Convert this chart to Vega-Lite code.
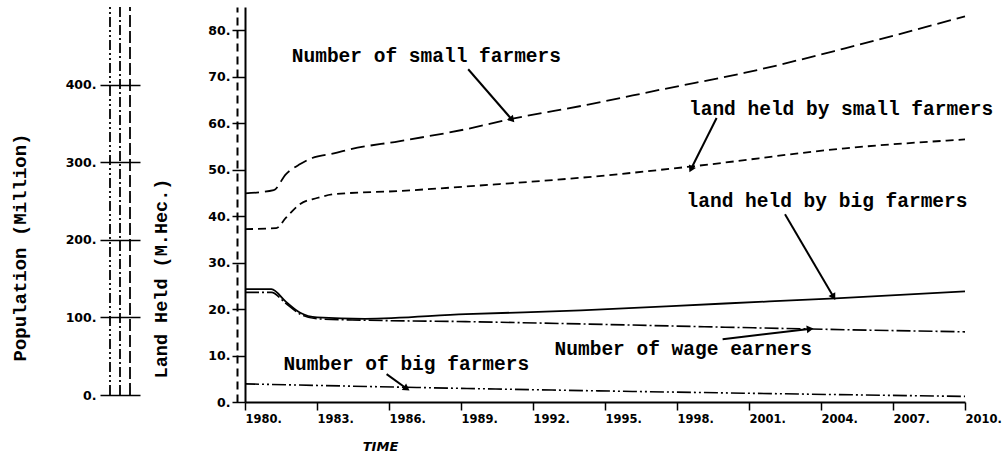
{
  "$schema": "https://vega.github.io/schema/vega-lite/v6.json",
  "padding": {"left": 10, "top": 6, "right": 0, "bottom": 5},
  "background": "white",
  "bounds": "flush",
  "spacing": 105,
  "config": {
    "view": {"stroke": null},
    "font": "DejaVu Sans",
    "axis": {"labelFont": "DejaVu Sans", "labelFontWeight": "bold", "labelFontSize": 12.5, "labelColor": "black", "titleColor": "black", "domainColor": "black", "tickColor": "black"}
  },
  "datasets": {
    "poplines": [{"line": 1}, {"line": 2}, {"line": 3}],
    "series": [
      {"series": "Number of small farmers", "year": 1980, "value": 44.9},
      {"series": "Number of small farmers", "year": 1981.2, "value": 45.6},
      {"series": "Number of small farmers", "year": 1981.7, "value": 49.0},
      {"series": "Number of small farmers", "year": 1982.3, "value": 51.2},
      {"series": "Number of small farmers", "year": 1982.8, "value": 52.5},
      {"series": "Number of small farmers", "year": 1983.7, "value": 53.5},
      {"series": "Number of small farmers", "year": 1984.4, "value": 54.4},
      {"series": "Number of small farmers", "year": 1986.4, "value": 56.1},
      {"series": "Number of small farmers", "year": 1989.2, "value": 58.7},
      {"series": "Number of small farmers", "year": 1991.1, "value": 60.9},
      {"series": "Number of small farmers", "year": 1994.3, "value": 64.0},
      {"series": "Number of small farmers", "year": 1997.5, "value": 67.4},
      {"series": "Number of small farmers", "year": 2000.8, "value": 70.8},
      {"series": "Number of small farmers", "year": 2005, "value": 76.1},
      {"series": "Number of small farmers", "year": 2010, "value": 83.0},
      {"series": "land held by small farmers", "year": 1980, "value": 37.2},
      {"series": "land held by small farmers", "year": 1981.3, "value": 37.4},
      {"series": "land held by small farmers", "year": 1981.7, "value": 39.6},
      {"series": "land held by small farmers", "year": 1982.3, "value": 42.6},
      {"series": "land held by small farmers", "year": 1983, "value": 43.9},
      {"series": "land held by small farmers", "year": 1983.7, "value": 44.7},
      {"series": "land held by small farmers", "year": 1986.4, "value": 45.4},
      {"series": "land held by small farmers", "year": 1990.6, "value": 46.9},
      {"series": "land held by small farmers", "year": 1994.3, "value": 48.4},
      {"series": "land held by small farmers", "year": 1998.8, "value": 50.8},
      {"series": "land held by small farmers", "year": 2005, "value": 54.6},
      {"series": "land held by small farmers", "year": 2010, "value": 56.5},
      {"series": "land held by big farmers", "year": 1980, "value": 24.3},
      {"series": "land held by big farmers", "year": 1981.1, "value": 24.3},
      {"series": "land held by big farmers", "year": 1981.7, "value": 21.6},
      {"series": "land held by big farmers", "year": 1982.3, "value": 19.2},
      {"series": "land held by big farmers", "year": 1983, "value": 18.2},
      {"series": "land held by big farmers", "year": 1985, "value": 17.9},
      {"series": "land held by big farmers", "year": 1989.2, "value": 18.9},
      {"series": "land held by big farmers", "year": 1994, "value": 19.7},
      {"series": "land held by big farmers", "year": 2000, "value": 21.2},
      {"series": "land held by big farmers", "year": 2004.6, "value": 22.3},
      {"series": "land held by big farmers", "year": 2010, "value": 23.8},
      {"series": "Number of wage earners", "year": 1980, "value": 23.6},
      {"series": "Number of wage earners", "year": 1981.1, "value": 23.6},
      {"series": "Number of wage earners", "year": 1981.7, "value": 21.2},
      {"series": "Number of wage earners", "year": 1982.3, "value": 18.9},
      {"series": "Number of wage earners", "year": 1983, "value": 17.9},
      {"series": "Number of wage earners", "year": 1985, "value": 17.6},
      {"series": "Number of wage earners", "year": 1989.2, "value": 17.3},
      {"series": "Number of wage earners", "year": 1994, "value": 16.8},
      {"series": "Number of wage earners", "year": 2000, "value": 16.1},
      {"series": "Number of wage earners", "year": 2003.6, "value": 15.7},
      {"series": "Number of wage earners", "year": 2010, "value": 15.1},
      {"series": "Number of big farmers", "year": 1980, "value": 3.9},
      {"series": "Number of big farmers", "year": 1986.4, "value": 3.2},
      {"series": "Number of big farmers", "year": 1994.7, "value": 2.4},
      {"series": "Number of big farmers", "year": 2002, "value": 1.8},
      {"series": "Number of big farmers", "year": 2010, "value": 1.2}
    ],
    "labels": [
      {"text": "Number of small farmers", "year": 1981.95, "value": 74.4},
      {"text": "land held by small farmers", "year": 1998.5, "value": 63.0},
      {"text": "land held by big farmers", "year": 1998.4, "value": 43.2},
      {"text": "Number of wage earners", "year": 1992.9, "value": 11.4},
      {"text": "Number of big farmers", "year": 1981.6, "value": 8.2}
    ],
    "arrows": [
      {"arrow": "small", "year": 1989.3, "value": 71.6, "year2": 1991.1, "value2": 60.9},
      {"arrow": "landsmall", "year": 1999.65, "value": 61.1, "year2": 1998.6, "value2": 50.3},
      {"arrow": "landbig", "year": 2002.5, "value": 40.4, "year2": 2004.5, "value2": 22.8},
      {"arrow": "wage", "year": 1999.9, "value": 13.5, "year2": 2003.5, "value2": 15.7},
      {"arrow": "big", "year": 1985.9, "value": 6.0, "year2": 1986.7, "value2": 3.0}
    ]
  },
  "hconcat": [
    {
      "width": 40,
      "height": 395,
      "data": {"name": "poplines"},
      "mark": {"type": "rule", "color": "black", "strokeWidth": 1.8},
      "encoding": {
        "x": {"field": "line", "type": "quantitative", "scale": {"domain": [0, 4]}, "axis": null},
        "y": {
          "datum": 0, "type": "quantitative",
          "scale": {"domain": [-9, 500], "nice": false, "zero": false},
          "axis": {
            "values": [0, 100, 200, 300, 400],
            "labelExpr": "datum.value + '.'",
            "grid": true, "gridColor": "black", "gridWidth": 1.5, "gridOpacity": 1,
            "domain": false, "ticks": false, "labelPadding": 4,
            "title": "Population (Million)",
            "titleFont": "Liberation Mono", "titleFontWeight": "bold", "titleFontSize": 19,
            "titleX": -81, "titleY": 240, "titleAlign": "center", "titleBaseline": "middle", "titleAngle": -90
          }
        },
        "y2": {"datum": 500},
        "strokeDash": {"field": "line", "type": "nominal", "scale": {"domain": [1, 2, 3], "range": [[10, 3, 2, 3, 2, 3], [10, 3, 2, 3], [12, 4]]}, "legend": null}
      }
    },
    {
      "width": 720,
      "height": 395,
      "layer": [
        {
          "data": {"name": "series"},
          "transform": [{"filter": "datum.series === 'land held by big farmers'"}],
          "mark": {"type": "line", "interpolate": "monotone", "color": "black", "strokeWidth": 1.8},
          "encoding": {
            "x": {
              "field": "year", "type": "quantitative",
              "scale": {"domain": [1980, 2010], "nice": false, "zero": false},
              "axis": {
                "values": [1980, 1983, 1986, 1989, 1992, 1995, 1998, 2001, 2004, 2007, 2010],
                "labelExpr": "datum.value + '.'",
                "labelFontSize": 11.5,
                "tickSize": 8, "tickWidth": 1.5, "domainWidth": 1.8,
                "labelAlign": "left", "labelDx": -4, "labelPadding": 3, "labelFlush": false, "labelOverlap": false, "grid": false,
                "title": "TIME", "titleX": 135, "titleY": 44, "titleAlign": "center", "titleBaseline": "middle",
                "titleFont": "DejaVu Sans", "titleFontStyle": "italic", "titleFontWeight": "bold", "titleFontSize": 13
              }
            },
            "y": {
              "field": "value", "type": "quantitative",
              "scale": {"domain": [0, 85], "nice": false, "zero": false},
              "axis": {
                "values": [0, 10, 20, 30, 40, 50, 60, 70, 80],
                "labelExpr": "datum.value + '.'",
                "tickSize": 13, "tickWidth": 1.5, "labelPadding": 2, "grid": false, "domainWidth": 2,
                "title": "Land Held (M.Hec.)",
                "titleFont": "Liberation Mono", "titleFontWeight": "bold", "titleFontSize": 18.5,
                "titleX": -85, "titleY": 271, "titleAlign": "center", "titleBaseline": "middle", "titleAngle": -90
              }
            }
          }
        },
        {
          "data": {"name": "series"},
          "transform": [{"filter": "datum.series === 'Number of small farmers'"}],
          "mark": {"type": "line", "interpolate": "monotone", "color": "black", "strokeWidth": 1.8, "strokeDash": [14, 6]},
          "encoding": {
            "x": {"field": "year", "type": "quantitative", "scale": {"domain": [1980, 2010], "nice": false, "zero": false}},
            "y": {"field": "value", "type": "quantitative", "scale": {"domain": [0, 85], "nice": false, "zero": false}, "axis": null}
          }
        },
        {
          "data": {"name": "series"},
          "transform": [{"filter": "datum.series === 'land held by small farmers'"}],
          "mark": {"type": "line", "interpolate": "monotone", "color": "black", "strokeWidth": 1.8, "strokeDash": [8, 5]},
          "encoding": {
            "x": {"field": "year", "type": "quantitative", "scale": {"domain": [1980, 2010], "nice": false, "zero": false}},
            "y": {"field": "value", "type": "quantitative", "scale": {"domain": [0, 85], "nice": false, "zero": false}, "axis": null}
          }
        },
        {
          "data": {"name": "series"},
          "transform": [{"filter": "datum.series === 'Number of wage earners'"}],
          "mark": {"type": "line", "interpolate": "monotone", "color": "black", "strokeWidth": 1.6, "strokeDash": [14, 3, 2, 3]},
          "encoding": {
            "x": {"field": "year", "type": "quantitative", "scale": {"domain": [1980, 2010], "nice": false, "zero": false}},
            "y": {"field": "value", "type": "quantitative", "scale": {"domain": [0, 85], "nice": false, "zero": false}, "axis": null}
          }
        },
        {
          "data": {"name": "series"},
          "transform": [{"filter": "datum.series === 'Number of big farmers'"}],
          "mark": {"type": "line", "interpolate": "monotone", "color": "black", "strokeWidth": 1.6, "strokeDash": [14, 3, 2, 3, 2, 3]},
          "encoding": {
            "x": {"field": "year", "type": "quantitative", "scale": {"domain": [1980, 2010], "nice": false, "zero": false}},
            "y": {"field": "value", "type": "quantitative", "scale": {"domain": [0, 85], "nice": false, "zero": false}, "axis": null}
          }
        },
        {
          "data": {"name": "labels"},
          "mark": {"type": "text", "font": "Liberation Mono", "fontWeight": "bold", "fontSize": 19.5, "align": "left", "baseline": "middle", "color": "black"},
          "encoding": {
            "x": {"field": "year", "type": "quantitative", "scale": {"domain": [1980, 2010], "nice": false, "zero": false}},
            "y": {
              "field": "value", "type": "quantitative",
              "scale": {"domain": [0, 85], "nice": false, "zero": false},
              "axis": {"orient": "left", "offset": 8, "domainDash": [8, 5], "domainWidth": 2, "ticks": false, "labels": false, "title": null, "grid": false}
            },
            "text": {"field": "text", "type": "nominal"}
          }
        },
        {
          "data": {"name": "arrows"},
          "mark": {"type": "rule", "color": "black", "strokeWidth": 2},
          "encoding": {
            "x": {"field": "year", "type": "quantitative", "scale": {"domain": [1980, 2010], "nice": false, "zero": false}},
            "y": {"field": "value", "type": "quantitative", "scale": {"domain": [0, 85], "nice": false, "zero": false}, "axis": null},
            "x2": {"field": "year2"},
            "y2": {"field": "value2"}
          }
        },
        {
          "data": {"name": "arrows"},
          "mark": {"type": "point", "shape": "triangle", "filled": true, "color": "black", "size": 60, "opacity": 1},
          "encoding": {
            "x": {"field": "year2", "type": "quantitative", "scale": {"domain": [1980, 2010], "nice": false, "zero": false}},
            "y": {"field": "value2", "type": "quantitative", "scale": {"domain": [0, 85], "nice": false, "zero": false}, "axis": null},
            "angle": {
              "field": "arrow", "type": "nominal",
              "scale": {"type": "ordinal", "domain": ["small", "landsmall", "landbig", "wage", "big"], "range": [139, 207, 150, 83, 124]},
              "legend": null
            }
          }
        }
      ],
      "resolve": {"axis": {"y": "independent"}}
    }
  ]
}
